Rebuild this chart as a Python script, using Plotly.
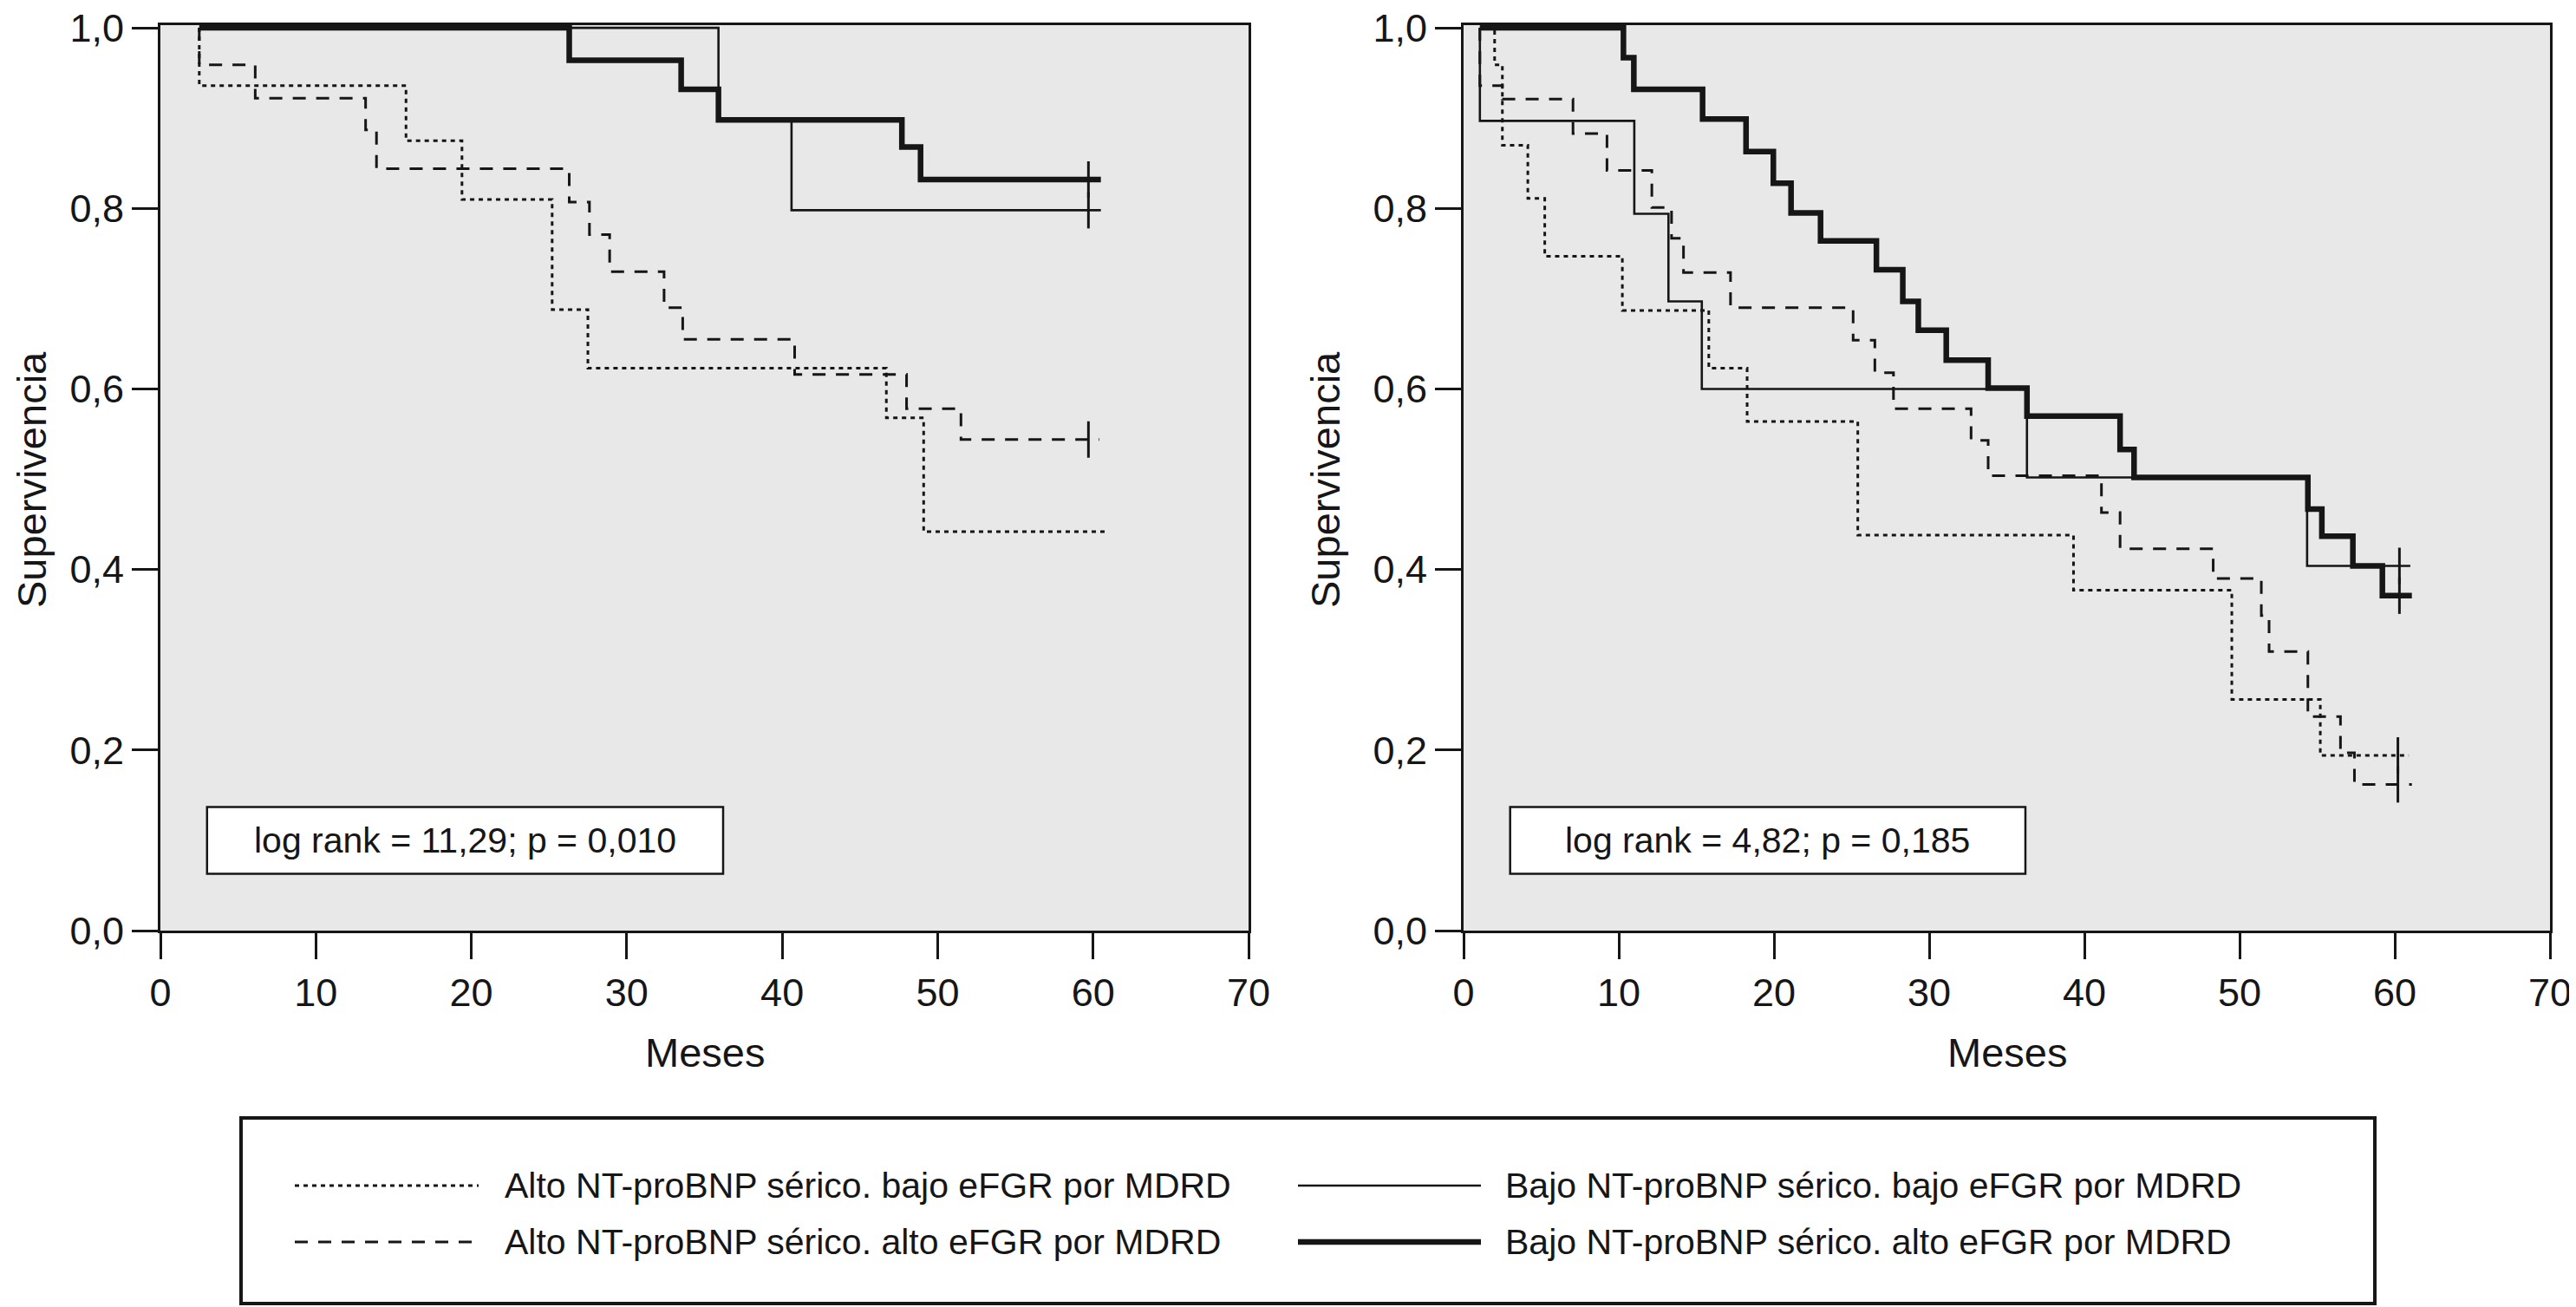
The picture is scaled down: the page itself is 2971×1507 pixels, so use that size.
import plotly.graph_objects as go

# ---------------- data ----------------
# Left panel: log rank = 11,29; p = 0,010
L_alto_bajo_t = [2.5, 2.5, 15.8, 19.4, 25.2, 27.5, 46.7, 49.1, 61.0]
L_alto_bajo_s = [1.0, 0.936, 0.875, 0.810, 0.688, 0.623, 0.568, 0.442, 0.442]

L_alto_alto_t = [2.5, 2.5, 6.1, 13.2, 13.9, 26.3, 27.6, 28.9, 32.4, 33.6, 40.8, 48.0, 51.5, 60.4]
L_alto_alto_s = [1.0, 0.959, 0.922, 0.887, 0.844, 0.807, 0.771, 0.730, 0.690, 0.655, 0.616, 0.578, 0.544, 0.544]

L_bajo_bajo_t = [2.5, 35.9, 40.6, 60.5]
L_bajo_bajo_s = [1.0, 0.898, 0.798, 0.798]

L_bajo_alto_t = [2.5, 26.3, 33.5, 35.9, 47.7, 48.9, 60.5]
L_bajo_alto_s = [1.0, 0.964, 0.932, 0.898, 0.868, 0.832, 0.832]

L_cens_t = {"alto_alto": [59.7], "bajo_bajo": [59.7], "bajo_alto": [59.7]}
L_cens_s = {"alto_alto": [0.544], "bajo_bajo": [0.798], "bajo_alto": [0.832]}

# Right panel: log rank = 4,82; p = 0,185
R_alto_bajo_t = [1.05, 2.0, 2.5, 4.14, 5.23, 10.23, 15.8, 18.27, 25.4, 39.3, 49.5, 55.2, 60.9]
R_alto_bajo_s = [1.0, 0.959, 0.870, 0.811, 0.747, 0.687, 0.623, 0.564, 0.438, 0.377, 0.256, 0.194, 0.194]

R_alto_alto_t = [1.05, 1.05, 2.5, 7.05, 9.24, 12.13, 13.4, 14.17, 17.2, 25.1, 26.5, 27.7, 32.7, 33.8,
                 41.1, 42.3, 48.3, 51.4, 51.9, 54.4, 56.5, 57.4, 61.1]
R_alto_alto_s = [1.0, 0.936, 0.921, 0.883, 0.842, 0.801, 0.767, 0.729, 0.690, 0.654, 0.618, 0.578, 0.543, 0.504,
                 0.463, 0.423, 0.390, 0.349, 0.309, 0.237, 0.197, 0.162, 0.162]

R_bajo_bajo_t = [1.05, 1.05, 11.0, 13.2, 15.35, 36.3, 54.35, 61.0]
R_bajo_bajo_s = [1.0, 0.897, 0.794, 0.697, 0.600, 0.502, 0.404, 0.404]

R_bajo_alto_t = [1.05, 10.3, 10.97, 15.4, 18.2, 19.96, 21.1, 23.0, 26.6, 28.3, 29.3, 31.1, 33.8, 36.3,
                 42.3, 43.2, 54.4, 55.3, 57.3, 59.2, 61.1]
R_bajo_alto_s = [1.0, 0.967, 0.932, 0.899, 0.863, 0.828, 0.795, 0.764, 0.732, 0.697, 0.665, 0.632, 0.601, 0.570,
                 0.533, 0.502, 0.467, 0.437, 0.404, 0.371, 0.371]

R_cens_t = {"alto_bajo": [60.2], "alto_alto": [60.2], "bajo_bajo": [60.3], "bajo_alto": [60.3]}
R_cens_s = {"alto_bajo": [0.194], "alto_alto": [0.162], "bajo_bajo": [0.404], "bajo_alto": [0.371]}

log_rank_texts = ["log rank = 11,29; p = 0,010", "log rank = 4,82; p = 0,185"]
legend_labels = {
    "alto_bajo": "Alto NT-proBNP sérico. bajo eFGR por MDRD",
    "alto_alto": "Alto NT-proBNP sérico. alto eFGR por MDRD",
    "bajo_bajo": "Bajo NT-proBNP sérico. bajo eFGR por MDRD",
    "bajo_alto": "Bajo NT-proBNP sérico. alto eFGR por MDRD",
}
x_ticks = [0, 10, 20, 30, 40, 50, 60, 70]
y_ticks = [0.0, 0.2, 0.4, 0.6, 0.8, 1.0]
x_title = "Meses"
y_title = "Supervivencia"

# ---------------- styles ----------------
INK = "#161616"
styles = {
    "alto_bajo": dict(color=INK, width=3, dash="5px,5px"),
    "alto_alto": dict(color=INK, width=3, dash="15px,12px"),
    "bajo_bajo": dict(color=INK, width=2.6, dash="solid"),
    "bajo_alto": dict(color=INK, width=6.5, dash="solid"),
}
FONT = "Liberation Sans, Arial, Helvetica, sans-serif"

# page has an 8px body margin: size the figure so it fits the 2971x1507 window
OFF = 8
W, H = 2971 - OFF, 1507 - OFF


def px(x):
    return (x - OFF) / W


def py(y):
    return 1 - (y - OFF) / H


fig = go.Figure()

panels = [
    ("x", "y", {
        "alto_bajo": (L_alto_bajo_t, L_alto_bajo_s),
        "alto_alto": (L_alto_alto_t, L_alto_alto_s),
        "bajo_bajo": (L_bajo_bajo_t, L_bajo_bajo_s),
        "bajo_alto": (L_bajo_alto_t, L_bajo_alto_s),
    }, L_cens_t, L_cens_s),
    ("x2", "y2", {
        "alto_bajo": (R_alto_bajo_t, R_alto_bajo_s),
        "alto_alto": (R_alto_alto_t, R_alto_alto_s),
        "bajo_bajo": (R_bajo_bajo_t, R_bajo_bajo_s),
        "bajo_alto": (R_bajo_alto_t, R_bajo_alto_s),
    }, R_cens_t, R_cens_s),
]

for xa, ya, curves, ct, cs in panels:
    for key in ["alto_bajo", "alto_alto", "bajo_bajo", "bajo_alto"]:
        t, s = curves[key]
        fig.add_trace(go.Scatter(x=t, y=s, mode="lines", line=dict(shape="hv", **styles[key]),
                                 xaxis=xa, yaxis=ya, showlegend=False, name=legend_labels[key],
                                 hoverinfo="skip"))
    for key in ct:
        fig.add_trace(go.Scatter(x=ct[key], y=cs[key], mode="markers",
                                 marker=dict(symbol="line-ns", size=30,
                                             line=dict(color=INK, width=3)),
                                 xaxis=xa, yaxis=ya, showlegend=False, cliponaxis=False,
                                 hoverinfo="skip"))

# axes geometry (pixels in the 2971x1507 window)
left_x = (185, 1440)
right_x = (1688, 2941)
top_y, bot_y = 29, 1073
ydom = [py(bot_y), py(top_y)]

axis_common = dict(range=[0, 70], tickvals=x_ticks, ticks="outside", ticklen=30, tickwidth=2.5,
                   tickcolor=INK, showline=True, linecolor=INK, linewidth=3, mirror=True,
                   showgrid=False, zeroline=False, automargin=False, ticklabeloverflow="allow",
                   tickfont=dict(family=FONT, size=45, color=INK))
yaxis_common = dict(range=[0, 1.003], tickvals=y_ticks, tickformat=".1f", ticks="outside", ticklen=30,
                    tickwidth=2.5, tickcolor=INK, showline=True, linecolor=INK, linewidth=3,
                    mirror=True, showgrid=False, zeroline=False, automargin=False,
                    ticklabeloverflow="allow",
                    tickfont=dict(family=FONT, size=45, color=INK))

fig.update_layout(
    width=W, height=H, autosize=False,
    margin=dict(l=0, r=0, t=0, b=0),
    paper_bgcolor="white", plot_bgcolor="#e8e8e8",
    separators=",.",
    xaxis=dict(domain=[px(left_x[0]), px(left_x[1])], anchor="y", **axis_common),
    yaxis=dict(domain=ydom, anchor="x", **yaxis_common),
    xaxis2=dict(domain=[px(right_x[0]), px(right_x[1])], anchor="y2", **axis_common),
    yaxis2=dict(domain=ydom, anchor="x2", **yaxis_common),
    showlegend=False,
)

shapes = []
annotations = []

# log rank boxes
for (xr, yr), txt in zip([("x", "y"), ("x2", "y2")], log_rank_texts):
    shapes.append(dict(type="rect", xref=xr, yref=yr, x0=3.0, x1=36.2, y0=0.063, y1=0.137,
                       fillcolor="white", line=dict(color=INK, width=2.5), layer="above"))
    annotations.append(dict(xref=xr, yref=yr, x=19.6, y=0.1, text=txt, showarrow=False,
                            font=dict(family=FONT, size=41, color=INK), xanchor="center",
                            yanchor="middle"))

# axis titles
for cx in [(left_x[0] + left_x[1]) / 2, (right_x[0] + right_x[1]) / 2]:
    annotations.append(dict(xref="paper", yref="paper", x=px(cx), y=py(1213), text=x_title,
                            showarrow=False, font=dict(family=FONT, size=47, color=INK),
                            xanchor="center", yanchor="middle"))
for cx in [37, 1529]:
    annotations.append(dict(xref="paper", yref="paper", x=px(cx), y=py(553), text=y_title,
                            showarrow=False, textangle=-90, font=dict(family=FONT, size=47, color=INK),
                            xanchor="center", yanchor="middle"))

# legend box
shapes.append(dict(type="rect", xref="paper", yref="paper", x0=px(278), x1=px(2739),
                   y0=py(1503), y1=py(1289), fillcolor="white",
                   line=dict(color=INK, width=4)))
legend_layout = [
    ("alto_bajo", 340, 552, 580, 1367),
    ("alto_alto", 340, 552, 580, 1432),
    ("bajo_bajo", 1497, 1708, 1734, 1367),
    ("bajo_alto", 1497, 1708, 1734, 1432),
]
for key, lx0, lx1, tx, ty in legend_layout:
    st = styles[key]
    shapes.append(dict(type="line", xref="paper", yref="paper", x0=px(lx0), x1=px(lx1),
                       y0=py(ty), y1=py(ty),
                       line=dict(color=st["color"], width=st["width"], dash=st["dash"])))
    annotations.append(dict(xref="paper", yref="paper", x=px(tx), y=py(ty),
                            text=legend_labels[key], showarrow=False,
                            font=dict(family=FONT, size=41, color=INK),
                            xanchor="left", yanchor="middle"))

fig.update_layout(shapes=shapes, annotations=annotations)
fig.write_html("out.html")
